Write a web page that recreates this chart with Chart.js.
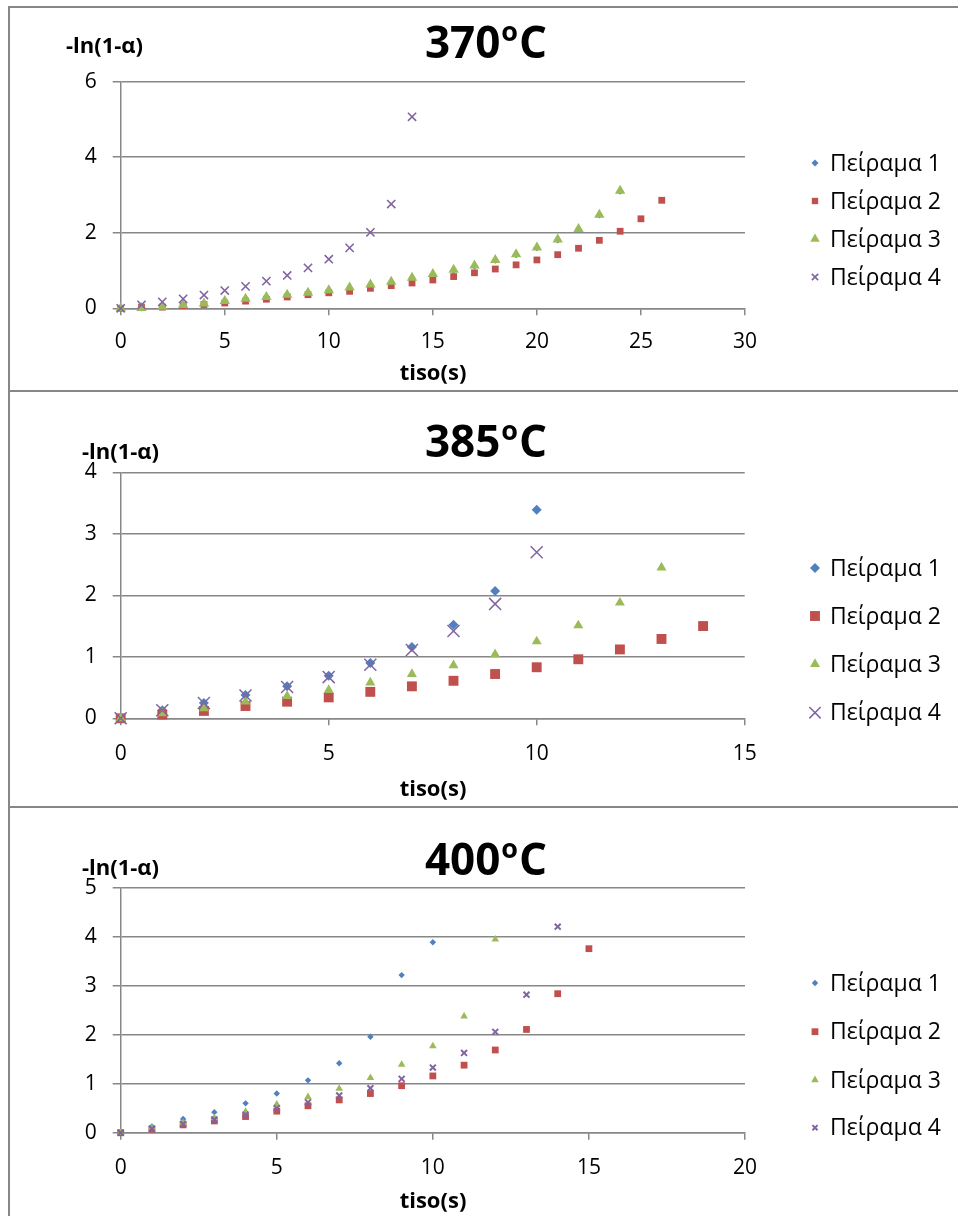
<!DOCTYPE html>
<html>
<head>
<meta charset="utf-8">
<script src="https://cdn.jsdelivr.net/npm/chart.js@4.4.1/dist/chart.umd.min.js"></script>
<style>
  html, body { margin: 0; padding: 0; background: #fff; }
  #page { position: relative; width: 958px; height: 1216px; overflow: hidden; background: #fff; }
  #page canvas { position: absolute; left: 0; }
  .rule { position: absolute; background: #878787; }
</style>
</head>
<body>
<div id="page">
  <canvas id="c370" width="958" height="391" style="top:0px"></canvas>
  <canvas id="c385" width="958" height="416" style="top:391px"></canvas>
  <canvas id="c400" width="958" height="409" style="top:807px"></canvas>
  <div class="rule" style="left:8px;top:6px;width:2px;height:1210px"></div>
  <div class="rule" style="left:8px;top:6px;width:950px;height:2px"></div>
  <div class="rule" style="left:8px;top:390px;width:950px;height:2px"></div>
  <div class="rule" style="left:8px;top:806px;width:950px;height:2px"></div>
</div>
<script>
// ---- measured data: time tiso (s) and -ln(1-α) per experiment ----
const seriesNames = ['Πείραμα 1', 'Πείραμα 2', 'Πείραμα 3', 'Πείραμα 4'];

// 370 °C
const t370_1 = [0,1,2,3,4,5,6,7,8,9,10,11,12,13,14,15,16,17,18,19,20,21,22,23,24];
const y370_1 = [0,0.01,0.04,0.08,0.12,0.18,0.24,0.29,0.35,0.40,0.47,0.54,0.62,0.69,0.80,0.90,1.01,1.12,1.27,1.42,1.60,1.81,2.09,2.47,3.10];
const t370_2 = [0,1,2,3,4,5,6,7,8,9,10,11,12,13,14,15,16,17,18,19,20,21,22,23,24,25,26];
const y370_2 = [0,0.03,0.03,0.07,0.10,0.14,0.19,0.24,0.30,0.36,0.41,0.45,0.53,0.60,0.67,0.75,0.84,0.94,1.04,1.15,1.28,1.42,1.59,1.80,2.04,2.37,2.86];
const t370_3 = [0,1,2,3,4,5,6,7,8,9,10,11,12,13,14,15,16,17,18,19,20,21,22,23,24];
const y370_3 = [0,0.01,0.04,0.09,0.13,0.19,0.25,0.30,0.36,0.41,0.48,0.55,0.63,0.70,0.81,0.91,1.02,1.13,1.28,1.43,1.61,1.82,2.10,2.48,3.11];
const t370_4 = [0,1,2,3,4,5,6,7,8,9,10,11,12,13,14];
const y370_4 = [0,0.09,0.17,0.25,0.35,0.47,0.58,0.72,0.87,1.07,1.30,1.60,2.01,2.76,5.07];

// 385 °C
const t385_1 = [0,1,2,3,4,5,6,7,8,9,10];
const y385_1 = [0,0.13,0.25,0.38,0.52,0.69,0.90,1.16,1.52,2.07,3.39];
const t385_2 = [0,1,2,3,4,5,6,7,8,9,10,11,12,13,14];
const y385_2 = [0,0.06,0.12,0.20,0.27,0.34,0.43,0.52,0.61,0.72,0.83,0.96,1.12,1.29,1.50];
const t385_3 = [0,1,2,3,4,5,6,7,8,9,10,11,12,13];
const y385_3 = [0,0.08,0.16,0.27,0.36,0.46,0.58,0.72,0.86,1.04,1.25,1.51,1.88,2.45];
const t385_4 = [0,1,2,3,4,5,6,7,8,9,10];
const y385_4 = [0,0.13,0.25,0.37,0.51,0.67,0.87,1.11,1.42,1.86,2.70];

// 400 °C
const t400_1 = [0,1,2,3,4,5,6,7,8,9,10];
const y400_1 = [0,0.13,0.28,0.42,0.60,0.80,1.07,1.42,1.96,3.22,3.89];
const t400_2 = [0,1,2,3,4,5,6,7,8,9,10,11,12,13,14,15];
const y400_2 = [0,0.07,0.16,0.24,0.33,0.44,0.55,0.67,0.80,0.96,1.16,1.38,1.69,2.11,2.84,3.76];
const t400_3 = [0,1,2,3,4,5,6,7,8,9,10,11,12];
const y400_3 = [0,0.10,0.20,0.30,0.43,0.58,0.73,0.90,1.12,1.39,1.77,2.38,3.95];
const t400_4 = [0,1,2,3,4,5,6,7,8,9,10,11,12,13,14];
const y400_4 = [0,0.08,0.18,0.27,0.37,0.50,0.62,0.76,0.91,1.10,1.33,1.63,2.06,2.82,4.21];

// axis ranges and tick steps
const xTicks370 = { min: 0, max: 30, step: 5 };
const yTicks370 = { min: 0, max: 6, step: 2 };
const xTicks385 = { min: 0, max: 15, step: 5 };
const yTicks385 = { min: 0, max: 4, step: 1 };
const xTicks400 = { min: 0, max: 20, step: 5 };
const yTicks400 = { min: 0, max: 5, step: 1 };

// ---- styling ----
const FONT = '"Open Sans", "Noto Sans", sans-serif';
const GRID = '#878787';
const colors = ['#4F81BD', '#C0504D', '#9BBB59', '#8064A2'];
const shapes = ['rectRot', 'rect', 'triangle', 'crossRot'];

function pairs(t, y) { return t.map((v, i) => ({ x: v, y: y[i] })); }

// titles, axis captions and legend are painted on the canvas after the chart
const decorations = {
  id: 'decorations',
  afterDraw(chart, args, o) {
    const ctx = chart.ctx;
    ctx.save();
    ctx.fillStyle = '#000';

    // title "NNNºC" with a raised small o
    const big = 'bold 44px ' + FONT, small = 'bold 27px ' + FONT;
    ctx.font = big;
    const wNum = ctx.measureText(o.temp).width;
    const wC = ctx.measureText('C').width;
    ctx.font = small;
    const wO = ctx.measureText('o').width;
    const total = wNum + wO + wC + 2;
    let x = o.titleX - total / 2;
    ctx.textBaseline = 'alphabetic';
    ctx.textAlign = 'left';
    ctx.font = big;
    ctx.fillText(o.temp, x, o.titleBase);
    x += wNum + 1;
    ctx.font = small;
    ctx.fillText('o', x, o.titleBase - 17);
    x += wO + 1;
    ctx.font = big;
    ctx.fillText('C', x, o.titleBase);

    // axis captions
    ctx.font = 'bold 22px ' + FONT;
    ctx.textAlign = 'center';
    ctx.textBaseline = 'middle';
    ctx.fillText('-ln(1-α)', o.yLabel[0], o.yLabel[1]);
    ctx.fillText('tiso(s)', o.xLabel[0], o.xLabel[1]);

    // legend
    ctx.font = '23px ' + FONT;
    ctx.textAlign = 'left';
    chart.data.datasets.forEach((ds, i) => {
      const ly = o.legendY[i];
      ctx.fillStyle = ds.pointBackgroundColor;
      ctx.strokeStyle = ds.pointBorderColor;
      ctx.lineWidth = ds.pointBorderWidth;
      Chart.helpers.drawPoint(ctx, { pointStyle: ds.pointStyle, rotation: 0, radius: o.legendRadius[i], borderWidth: ds.pointBorderWidth }, o.legendX, ly);
      ctx.fillStyle = '#000';
      ctx.fillText(ds.label, o.legendX + 15, ly + 1);
    });
    ctx.restore();
  }
};

function makeChart(id, cfg) {
  const canvas = document.getElementById(id);
  const W = canvas.width, H = canvas.height;
  const a = cfg.area;
  const xBox = 60;
  const datasets = cfg.series.map((s, i) => ({
    label: seriesNames[i],
    data: pairs(s[0], s[1]),
    pointStyle: shapes[i],
    pointRadius: cfg.radius[i],
    pointHoverRadius: cfg.radius[i],
    pointBackgroundColor: colors[i],
    pointBorderColor: colors[i],
    pointBorderWidth: i === 3 ? cfg.crossWidth : 0,
    showLine: false,
    clip: false,
    order: 3 - i
  }));
  return new Chart(canvas, {
    type: 'scatter',
    data: { datasets },
    options: {
      responsive: false,
      animation: false,
      events: [],
      layout: { padding: { left: 20, top: a.top, right: W - a.right, bottom: H - a.bottom - xBox } },
      plugins: {
        legend: { display: false },
        tooltip: { enabled: false },
        decorations: cfg.deco
      },
      scales: {
        x: {
          type: 'linear',
          min: cfg.xT.min, max: cfg.xT.max,
          afterFit(s) { s.height = xBox; },
          ticks: { stepSize: cfg.xT.step, color: '#000', font: { family: FONT, size: 21 }, padding: cfg.xPad, maxRotation: 0 },
          grid: { drawOnChartArea: false, drawTicks: true, tickLength: 7, color: GRID, lineWidth: 1.5 },
          border: { display: true, color: GRID, width: 1.5 }
        },
        y: {
          type: 'linear',
          min: cfg.yT.min, max: cfg.yT.max,
          afterFit(s) { s.width = a.left - 20; },
          ticks: { stepSize: cfg.yT.step, color: '#000', font: { family: FONT, size: 21 }, padding: 16 },
          grid: { drawOnChartArea: true, drawTicks: true, tickLength: 8, color: GRID, lineWidth: 1.5 },
          border: { display: true, color: GRID, width: 1.5 }
        }
      }
    },
    plugins: [decorations]
  });
}

makeChart('c370', {
  area: { left: 120.7, right: 745, top: 81.7, bottom: 308.3 },
  xT: xTicks370, yT: yTicks370, xPad: 14,
  series: [[t370_1, y370_1], [t370_2, y370_2], [t370_3, y370_3], [t370_4, y370_4]],
  radius: [3.5, 4.8, 6, 5.8], crossWidth: 1.6,
  deco: { temp: '370', titleX: 486, titleBase: 58, yLabel: [104.5, 46.5], xLabel: [433, 374],
          legendX: 815, legendY: [163, 201, 239, 277], legendRadius: [3.5, 4.5, 5.5, 4.5] }
});

makeChart('c385', {
  area: { left: 120.7, right: 744.7, top: 81.3, bottom: 327.3 },
  xT: xTicks385, yT: yTicks385, xPad: 16,
  series: [[t385_1, y385_1], [t385_2, y385_2], [t385_3, y385_3], [t385_4, y385_4]],
  radius: [5, 7, 5.8, 8.5], crossWidth: 1.5,
  deco: { temp: '385', titleX: 486, titleBase: 65.7, yLabel: [120.5, 62], xLabel: [433, 399],
          legendX: 815, legendY: [177, 225, 273, 321.7], legendRadius: [5, 7, 5.8, 8] }
});

makeChart('c400', {
  area: { left: 120.7, right: 745, top: 81, bottom: 325.7 },
  xT: xTicks400, yT: yTicks400, xPad: 16,
  series: [[t400_1, y400_1], [t400_2, y400_2], [t400_3, y400_3], [t400_4, y400_4]],
  radius: [3.2, 4.8, 4.4, 4.2], crossWidth: 2,
  deco: { temp: '400', titleX: 486, titleBase: 68, yLabel: [120.5, 62], xLabel: [433, 395],
          legendX: 815, legendY: [176, 224.7, 273, 320.7], legendRadius: [3.2, 4.8, 4.4, 3.6] }
});
</script>
</body>
</html>
